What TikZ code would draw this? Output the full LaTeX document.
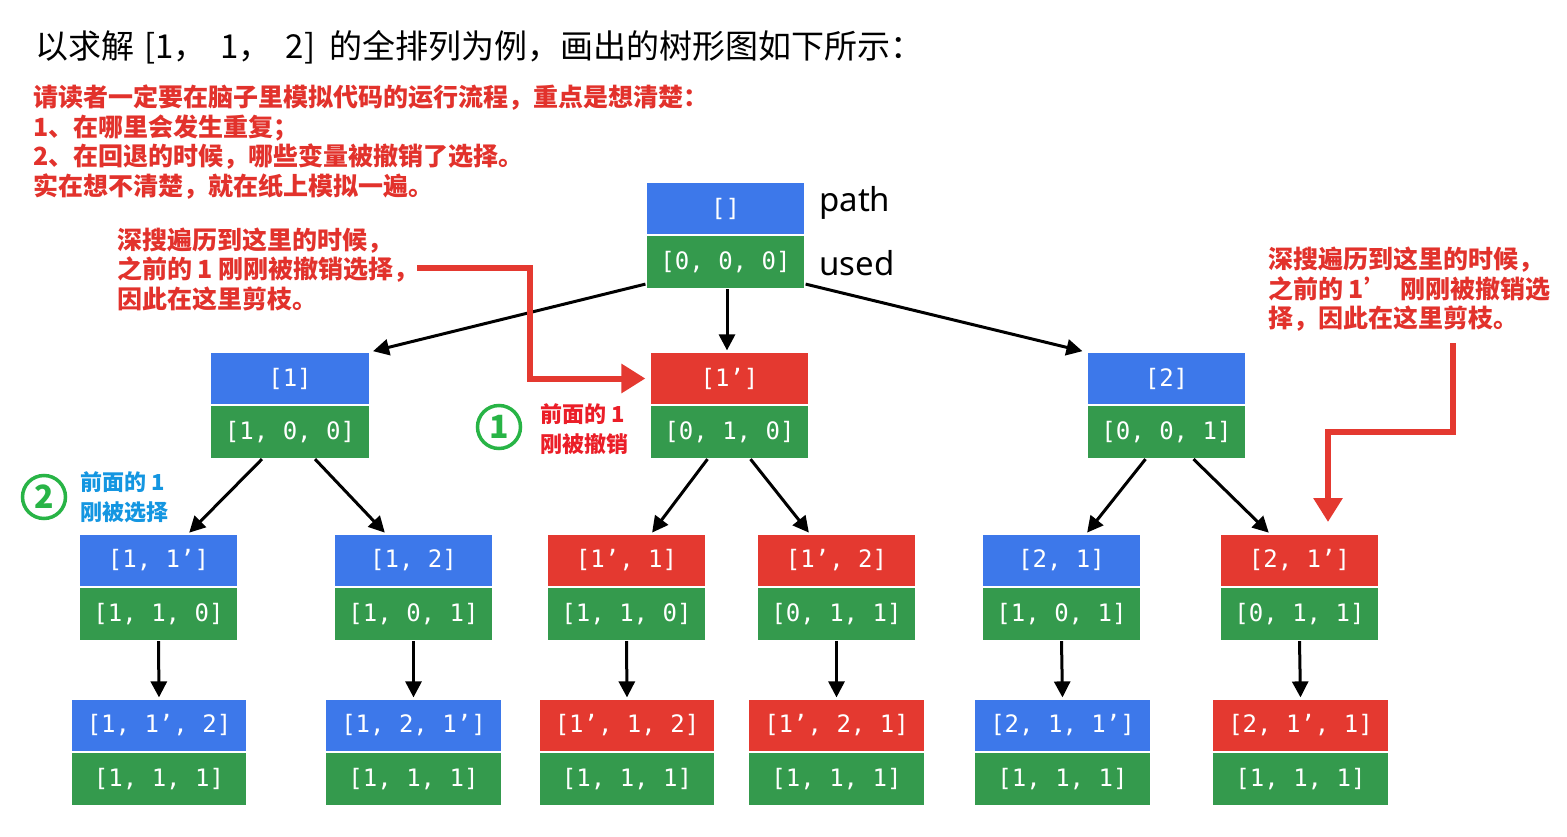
\documentclass[tikz,border=0pt]{standalone}
\usepackage{fontspec}
\setmainfont{Noto Sans}
\newfontfamily\cjk{Noto Sans CJK SC}
\newfontfamily\mono{DejaVu Sans Mono}
\usetikzlibrary{arrows.meta}
\definecolor{bluebox}{RGB}{61,120,234}
\definecolor{greenbox}{RGB}{52,154,77}
\definecolor{redbox}{RGB}{228,57,48}
\definecolor{notered}{RGB}{226,50,44}
\definecolor{brightred}{RGB}{235,30,40}
\definecolor{circgreen}{RGB}{40,180,70}
\definecolor{noteblue}{RGB}{20,150,225}
\tikzset{
  box/.style={draw=white, line width=1.2pt, minimum height=53, inner sep=0pt, text=white, font=\mono\fontsize{24}{24}\selectfont},
  edge/.style={line width=3, -{Triangle[length=16,width=16]}, shorten >=1},
  redarrow/.style={draw=redbox, line width=6, -{Triangle[length=24,width=28]}},
  note/.style={font=\cjk\bfseries\fontsize{25}{29.5}\selectfont, text=notered, align=left, anchor=west, inner sep=0},
  smallnote/.style={font=\cjk\bfseries\fontsize{22}{30}\selectfont, align=left, anchor=west, inner sep=0},
  circ/.style={circle, draw=circgreen, line width=3.5, minimum size=43, inner sep=0, text=circgreen, font=\cjk\bfseries\fontsize{32}{32}\selectfont},
}
\newcommand\tn[7]{%
  \node[box, fill=#5, minimum width=#4] (#1-p) at (#2,#3+26.5) {#6};
  \node[box, fill=greenbox, minimum width=#4] (#1-u) at (#2,#3+80) {#7};
}
\begin{document}
\begin{tikzpicture}[x=1pt,y=-1pt]
\useasboundingbox[fill=white] (0,0) rectangle (1567,837);
% title
\node[anchor=west, inner sep=0, font=\cjk\fontsize{33}{33}\selectfont] (title) at (35,47) {以求解\hspace{10pt}[1，\hspace{14pt}1，\hspace{14pt}2]\hspace{14pt}的全排列为例，画出的树形图如下所示：};
\node[note] (intro) at (33,142) {请读者一定要在脑子里模拟代码的运行流程，重点是想清楚：\\1、在哪里会发生重复；\\2、在回退的时候，哪些变量被撤销了选择。\\实在想不清楚，就在纸上模拟一遍。};
% tree
\tn{r}{725.5}{182}{159}{bluebox}{[]}{[0, 0, 0]}
\node[anchor=west, inner sep=0, font=\fontsize{33}{33}\selectfont] (lp) at (819,203) {path};
\node[anchor=west, inner sep=0, font=\fontsize{33}{33}\selectfont] (lu) at (819,263) {used};
\tn{a}{290}{352}{159}{bluebox}{[1]}{[1, 0, 0]}
\tn{b}{729.5}{352}{159}{redbox}{[1’]}{[0, 1, 0]}
\tn{c}{1166.5}{352}{159}{bluebox}{[2]}{[0, 0, 1]}
\tn{aa}{158.5}{534}{159}{bluebox}{[1, 1’]}{[1, 1, 0]}
\tn{ab}{413.5}{534}{159}{bluebox}{[1, 2]}{[1, 0, 1]}
\tn{ba}{626.5}{534}{159}{redbox}{[1’, 1]}{[1, 1, 0]}
\tn{bb}{836.5}{534}{159}{redbox}{[1’, 2]}{[0, 1, 1]}
\tn{ca}{1061.5}{534}{159}{bluebox}{[2, 1]}{[1, 0, 1]}
\tn{cb}{1299.5}{534}{159}{redbox}{[2, 1’]}{[0, 1, 1]}
\tn{aaa}{159}{699}{176}{bluebox}{[1, 1’, 2]}{[1, 1, 1]}
\tn{aba}{413.5}{699}{176}{bluebox}{[1, 2, 1’]}{[1, 1, 1]}
\tn{baa}{627}{699}{176}{redbox}{[1’, 1, 2]}{[1, 1, 1]}
\tn{bba}{836.5}{699}{176}{redbox}{[1’, 2, 1]}{[1, 1, 1]}
\tn{caa}{1062.5}{699}{176}{bluebox}{[2, 1, 1’]}{[1, 1, 1]}
\tn{cba}{1300.5}{699}{176}{redbox}{[2, 1’, 1]}{[1, 1, 1]}
% edges
\draw[edge] ([yshift=5]r-u.south west) -- ([xshift=2]a-p.north east);
\draw[edge] ([xshift=1.5]r-u.south) -- ([xshift=-2.5]b-p.north);
\draw[edge] ([yshift=5]r-u.south east) -- ([xshift=-3]c-p.north west);
\draw[edge] ([xshift=-28]a-u.south) -- ([xshift=30]aa-p.north);
\draw[edge] ([xshift=25]a-u.south) -- ([xshift=-28]ab-p.north);
\draw[edge] ([xshift=-22]b-u.south) -- ([xshift=25]ba-p.north);
\draw[edge] ([xshift=21]b-u.south) -- ([xshift=-27]bb-p.north);
\draw[edge] ([xshift=-21]c-u.south) -- ([xshift=25]ca-p.north);
\draw[edge] ([xshift=27]c-u.south) -- ([xshift=-30]cb-p.north);
\foreach \n in {aa,ab,ba,bb,ca,cb}{
  \draw[edge] (\n-u.south) -- (\n a-p.north);
}
% annotations
\node[note] (n1) at (117,269) {深搜遍历到这里的时候，\\之前的 1 刚刚被撤销选择，\\因此在这里剪枝。};
\node[note] (n2) at (1268,289.5) {深搜遍历到这里的时候，\\之前的 1’\ \ 刚刚被撤销选\\择，因此在这里剪枝。};
\coordinate (s1) at (417,268);
\coordinate (k1) at (530,378.5);
\draw[redarrow] (s1) -| (k1) -- ([xshift=-4]b-p.west);
\coordinate (s2) at (1453,343);
\coordinate (k2) at (1328,432);
\draw[redarrow] (s2) |- (k2) -- (k2 |- 0,522);
\node[circ] (c1) at (499,427) {1};
\node[smallnote, text=brightred] (t1) at (540,429) {前面的 1\\刚被撤销};
\node[circ] (c2) at (44,497) {2};
\node[smallnote, text=noteblue] (t2) at (80,497.5) {前面的 1\\刚被选择};
\end{tikzpicture}
\end{document}
